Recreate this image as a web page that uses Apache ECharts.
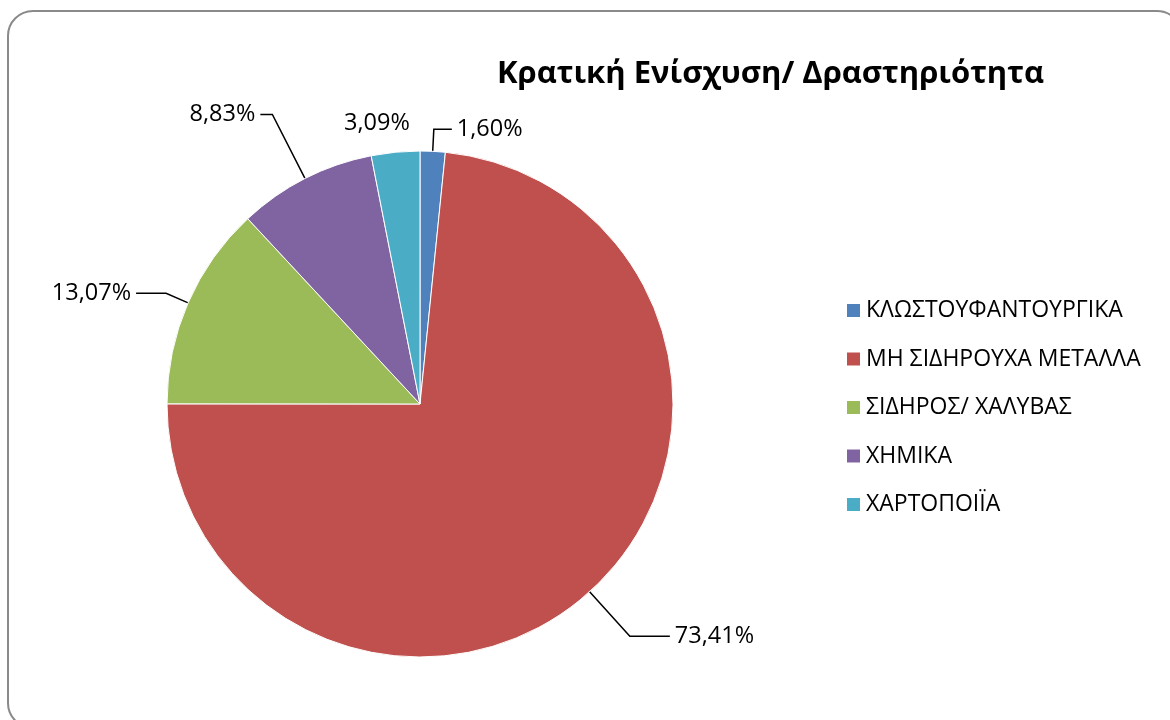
<!DOCTYPE html>
<html>
<head>
<meta charset="utf-8">
<script src="https://cdn.jsdelivr.net/npm/echarts@6/dist/echarts.min.js"></script>
<style>
html,body{margin:0;padding:0;background:#fff;}
#chart{width:1170px;height:720px;}
</style>
</head>
<body>
<div id="chart"></div>
<script>
const titleText = 'Κρατική Ενίσχυση/ Δραστηριότητα';
const categories = ['ΚΛΩΣΤΟΥΦΑΝΤΟΥΡΓΙΚΑ', 'ΜΗ ΣΙΔΗΡΟΥΧΑ ΜΕΤΑΛΛΑ', 'ΣΙΔΗΡΟΣ/ ΧΑΛΥΒΑΣ', 'ΧΗΜΙΚΑ', 'ΧΑΡΤΟΠΟΙΪΑ'];
const values = [1.60, 73.41, 13.07, 8.83, 3.09];
const colors = ['#4F81BD', '#C0504D', '#9BBB59', '#8064A2', '#4BACC6'];

const lineLens = [[22, 18], [60, 40], [24, 30], [72, 12], [27, 0]];
const FONT = '"Open Sans", "Noto Sans", sans-serif';

const chart = echarts.init(document.getElementById('chart'), null, {renderer: 'canvas'});
const data = categories.map((name, i) => ({
  name: name,
  value: values[i],
  itemStyle: {color: colors[i]},
  labelLine: {show: i !== 4, length: lineLens[i][0], length2: lineLens[i][1]}
}));

chart.setOption({
  animation: false,
  backgroundColor: '#fff',
  graphic: [{
    type: 'rect',
    shape: {x: 8, y: 11, width: 1174, height: 717, r: 25},
    style: {fill: 'none', stroke: '#8a8a8a', lineWidth: 2},
    silent: true, z: -1
  }],
  title: {
    text: titleText,
    left: 492,
    top: 54,
    textStyle: {fontFamily: FONT, fontWeight: 'bold', fontSize: 31, color: '#000'}
  },
  legend: {
    orient: 'vertical',
    left: 840,
    top: 294,
    icon: 'rect',
    itemWidth: 15,
    itemHeight: 15,
    itemGap: 25.5,
    textStyle: {fontFamily: FONT, fontSize: 23, color: '#000', lineHeight: 21},
    data: categories
  },
  series: [{
    type: 'pie',
    center: [420, 404],
    radius: 253,
    startAngle: 90,
    clockwise: true,
    avoidLabelOverlap: false,
    data: data,
    itemStyle: {borderColor: '#fff', borderWidth: 1},
    label: {
      show: true,
      position: 'outside',
      fontFamily: FONT,
      fontSize: 23.5,
      color: '#000',
      formatter: p => p.value.toFixed(2).replace('.', ',') + '%'
    },
    labelLine: {show: true, lineStyle: {color: '#000', width: 1.5}},
    labelLayout: function (p) {
      if (p.dataIndex === 4) { return {dx: 22, dy: -2}; }
    },
    emphasis: {disabled: true}
  }]
});
</script>
</body>
</html>
